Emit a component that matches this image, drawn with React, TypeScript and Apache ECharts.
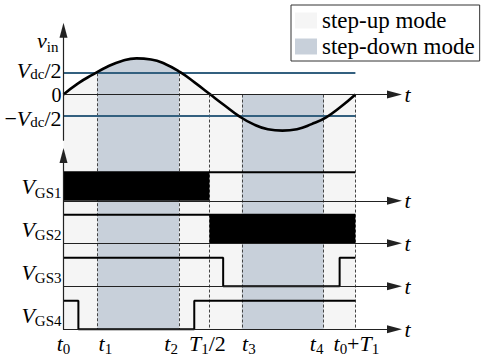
import React, { useEffect, useRef } from "react";
import * as echarts from "echarts";

// ---- time instants, one period T1 normalised to 1 (t0 = 0) ----
const T_MARKS = [0, 0.116, 0.396, 0.5, 0.611, 0.891, 1];
const T_NAMES = ["t_0", "t_1", "t_2", "T_1/2", "t_3", "t_4", "t_0+T_1"];
// horizontal nudge of each time label (px, + = right)
const T_SHIFT = [0, 8, -8, -2, 7, -7, 1];

// ---- input voltage v_in, normalised to its peak ----
const VIN_T = [0, 0.05, 0.1, 0.15, 0.2, 0.25, 0.3, 0.35, 0.4, 0.45, 0.5, 0.55, 0.6, 0.65, 0.7, 0.75, 0.8, 0.85, 0.9, 0.95, 1];
const VIN_V = [0, 0.31, 0.55, 0.77, 0.93, 1.0, 0.97, 0.84, 0.62, 0.33, 0.02, -0.29, -0.59, -0.82, -0.96, -1.0, -0.96, -0.82, -0.63, -0.34, 0];
const VDC_HALF = 0.59;
const VIN_TICKS = [-VDC_HALF, 0, VDC_HALF];
const VIN_LABELS = ["−V_dc/2", "0", "V_dc/2"];
// vertical nudge of each v_in tick text (px, + = down)
const VIN_SHIFT = [3, 0, -3];

// ---- operating modes ----
const STEP_UP_SPAN = [0, 1];
const STEP_DOWN_SPANS = [
  [0.116, 0.396],
  [0.611, 0.891],
];
const DASH_T = [0.116, 0.396, 0.5, 0.611, 0.891, 1];
const DASH_TOP = [VDC_HALF, VDC_HALF, 0, 0, 0, 0];

// ---- gate signals ----
const GATE_NAMES = ["V_GS1", "V_GS2", "V_GS3", "V_GS4"];
// intervals drawn as dense PWM (solid block)
const GATE_PWM: (number[] | null)[] = [[0, 0.5], [0.5, 1], null, null];
// level changes [t, level], drawn with step 'end'
const GATE_LEVELS = [
  [[0, 1], [1, 1]],
  [[0, 1], [1, 1]],
  [[0, 1], [0.547, 0], [0.946, 1], [1, 1]],
  [[0, 1], [0.051, 0], [0.448, 1], [1, 1]],
];

// ---- styling ----
const FONT = "'Liberation Serif', 'Times New Roman', serif";
const GRAY = "#f5f5f5";
const BLUE = "#c8d0da";
const TEAL = "#33607f";
const TEAL_TXT = "#2c5f79";
const AXIS = "#222";

const X_MAX = 1.134;
const Y_MIN = -6.5;
const Y_MAX = 2;
const LEFT = 63.5;
const WIDTH = 331;

function richStyles(color: string, lh = 24, size = 22) {
  const sub = Math.round(lh / 2);
  return {
    i: { fontFamily: FONT, fontStyle: "italic", fontSize: size, lineHeight: lh, color },
    r: { fontFamily: FONT, fontSize: size, lineHeight: lh, color },
    s: { fontFamily: FONT, fontSize: 15, lineHeight: lh - sub, padding: [sub, 0, 0, 0], color },
  };
}

// "V_dc/2" -> italic V with roman subscript "dc", then roman "/2"
function markup(s: string): string {
  const re = /([A-Za-z])_([A-Za-z0-9]+)|([^A-Za-z_]+)/g;
  let out = "";
  let m: RegExpExecArray | null;
  while ((m = re.exec(s)) !== null) {
    if (m[1]) out += `{i|${m[1]}}{s|${m[2]}}`;
    else out += `{r|${m[3]}}`;
  }
  return out;
}

const ARROW = { symbol: ["none", "triangle"], symbolSize: [8, 15] };

export default function App() {
  const ref = useRef<HTMLDivElement>(null);

  useEffect(() => {
    const chart = echarts.init(ref.current!, null, { renderer: "svg" });

    const vinData = VIN_T.map((t, k) => [t, VIN_V[k]]);

    // fill under the curve, coloured by operating mode
    const stops: { offset: number; color: string }[] = [{ offset: 0, color: GRAY }];
    STEP_DOWN_SPANS.forEach(([a, b]) => {
      stops.push({ offset: a, color: GRAY }, { offset: a, color: BLUE });
      stops.push({ offset: b, color: BLUE }, { offset: b, color: GRAY });
    });
    stops.push({ offset: 1, color: GRAY });

    const gateGridTops = [172.3, 214.8, 257.8, 300.8];
    const grids: any[] = [
      { left: LEFT, top: 22.3, width: WIDTH, height: 307 },
      { left: LEFT, top: 30.2, width: WIDTH, height: 110 },
      { left: LEFT, top: 155.5, width: WIDTH, height: 173.8 },
      ...gateGridTops.map((top) => ({ left: LEFT, top, width: WIDTH, height: 28.5 })),
    ];

    const tName = {
      name: "t",
      nameLocation: "end",
      nameGap: 10,
      nameTextStyle: { fontFamily: FONT, fontStyle: "italic", fontSize: 22, color: "#000", verticalAlign: "middle" },
    };

    const xAxes: any[] = [
      {
        gridIndex: 0, type: "value", min: 0, max: X_MAX, z: 10,
        axisLine: { show: true, onZero: true, lineStyle: { color: AXIS, width: 1 }, ...ARROW },
        axisTick: { show: false }, axisLabel: { show: false }, splitLine: { show: false },
        ...tName,
      },
      { gridIndex: 1, type: "value", min: 0, max: X_MAX, show: false },
      { gridIndex: 2, type: "value", min: 0, max: X_MAX, show: false },
      ...GATE_NAMES.map((_, g) => ({
        gridIndex: 3 + g, type: "value", min: 0, max: X_MAX, z: 10,
        axisLine: { show: true, onZero: false, lineStyle: { color: AXIS, width: 1 }, ...ARROW },
        axisTick: { show: false }, axisLabel: { show: false }, splitLine: { show: false },
        ...tName,
      })),
    ];

    const vAxis = (gridIndex: number) => ({
      gridIndex, type: "value", min: 0, max: 1, z: 10,
      axisLine: { show: true, onZero: false, lineStyle: { color: AXIS, width: 1.2 }, ...ARROW },
      axisTick: { show: false }, axisLabel: { show: false }, splitLine: { show: false },
    });

    const yAxes: any[] = [
      {
        gridIndex: 0, type: "value", min: Y_MIN, max: Y_MAX, z: 10,
        axisLine: { show: false }, axisTick: { show: false }, splitLine: { show: false },
        axisLabel: { show: false },
      },
      vAxis(1),
      vAxis(2),
      ...GATE_NAMES.map((name, g) => ({
        gridIndex: 3 + g, type: "value", min: 0, max: 1, z: 10,
        axisLine: { show: false }, axisTick: { show: false }, splitLine: { show: false },
        axisLabel: {
          show: true, hideOverlap: false, customValues: [0.5], margin: 2,
          formatter: () => markup(name),
          rich: richStyles("#000"),
        },
      })),
    ];

    const series: any[] = [
      {
        name: "step-up mode", type: "line", xAxisIndex: 0, yAxisIndex: 0, data: [],
        color: GRAY, z: 0,
        markArea: {
          silent: true, itemStyle: { color: GRAY },
          data: [[{ xAxis: STEP_UP_SPAN[0], yAxis: Y_MIN }, { xAxis: STEP_UP_SPAN[1], yAxis: 0 }]],
        },
      },
      {
        name: "step-down mode", type: "line", xAxisIndex: 0, yAxisIndex: 0, data: [],
        color: BLUE, z: 0,
        markArea: {
          silent: true, itemStyle: { color: BLUE },
          data: STEP_DOWN_SPANS.map(([a, b]) => [{ xAxis: a, yAxis: Y_MIN }, { xAxis: b, yAxis: 0 }]),
        },
      },
      {
        type: "line", xAxisIndex: 0, yAxisIndex: 0, data: vinData, smooth: true,
        showSymbol: false, silent: true, z: 1,
        lineStyle: { width: 0, opacity: 0 },
        areaStyle: { opacity: 1, color: new echarts.graphic.LinearGradient(0, 0, 1, 0, stops) },
      },
      {
        type: "lines", coordinateSystem: "cartesian2d", xAxisIndex: 0, yAxisIndex: 0, z: 2, silent: true,
        lineStyle: { color: "#444", width: 1, type: [3, 2], opacity: 1 },
        data: DASH_T.map((t, k) => ({ coords: [[t, DASH_TOP[k]], [t, Y_MIN]] })),
      },
      {
        type: "lines", coordinateSystem: "cartesian2d", xAxisIndex: 0, yAxisIndex: 0, z: 3, silent: true,
        lineStyle: { color: TEAL, width: 2, opacity: 1 },
        data: [VDC_HALF, -VDC_HALF].map((v) => ({ coords: [[STEP_UP_SPAN[0], v], [STEP_UP_SPAN[1], v]] })),
      },
      {
        type: "line", xAxisIndex: 0, yAxisIndex: 0, data: vinData, smooth: true,
        showSymbol: false, silent: true, z: 4,
        lineStyle: { color: "#000", width: 2.6 },
      },
    ];

    GATE_NAMES.forEach((_, g) => {
      const pwm = GATE_PWM[g];
      if (pwm) {
        series.push({
          type: "line", xAxisIndex: 3 + g, yAxisIndex: 3 + g, clip: false,
          data: [[pwm[0], 1], [pwm[1], 1]], showSymbol: false, silent: true, z: 5,
          lineStyle: { width: 0, opacity: 0 },
          areaStyle: { color: "#000", opacity: 1 },
        });
      }
      series.push({
        type: "line", xAxisIndex: 3 + g, yAxisIndex: 3 + g, clip: false,
        data: GATE_LEVELS[g], step: "end", showSymbol: false, silent: true, z: 6,
        lineStyle: { color: "#000", width: 2 },
      });
    });

    chart.setOption({
      animation: false,
      backgroundColor: "#fff",
      textStyle: { fontFamily: FONT },
      grid: grids,
      xAxis: xAxes,
      yAxis: yAxes,
      legend: {
        data: ["step-up mode", "step-down mode"],
        orient: "vertical",
        left: 291, top: 5,
        icon: "rect",
        itemWidth: 22, itemHeight: 16, itemGap: 3,
        padding: [4, 5, 3, 4],
        borderColor: "#333", borderWidth: 1, backgroundColor: "#fff",
        textStyle: { fontFamily: FONT, fontSize: 23, lineHeight: 22, color: "#000" },
        selectedMode: false,
      },
      series,
    });

    // tick texts placed through the axis scales
    const baseY = chart.convertToPixel({ yAxisIndex: 6 }, 0) as number;
    const timeLabels = T_MARKS.map((t, k) => {
      const x = chart.convertToPixel({ xAxisIndex: 6 }, t) as number;
      return {
        type: "text",
        x: x + T_SHIFT[k],
        y: baseY + 2,
        z: 20,
        style: {
          text: markup(T_NAMES[k]),
          rich: richStyles("#000"),
          align: "center",
          textAlign: "center",
          verticalAlign: "top",
          textVerticalAlign: "top",
        },
      };
    });
    const axisX = chart.convertToPixel({ xAxisIndex: 0 }, 0) as number;
    const vinLabels = VIN_TICKS.map((v, k) => {
      const y = chart.convertToPixel({ yAxisIndex: 0 }, v) as number;
      const zero = v === 0;
      return {
        type: "text",
        x: axisX - 2,
        y: y + VIN_SHIFT[k],
        z: 20,
        style: {
          text: markup(VIN_LABELS[k]),
          rich: richStyles(zero ? "#000" : TEAL_TXT, 14, zero ? 20 : 22),
          align: "right",
          textAlign: "right",
          verticalAlign: "middle",
          textVerticalAlign: "middle",
        },
      };
    });

    chart.setOption({
      graphic: [
        {
          type: "text", left: 37, top: 27, z: 20,
          style: { text: markup("v_in"), rich: richStyles("#000") },
        },
        ...vinLabels,
        ...timeLabels,
      ],
    });

    return () => chart.dispose();
  }, []);

  return <div ref={ref} style={{ position: "fixed", left: 0, top: 0, width: 484, height: 356 }} />;
}
